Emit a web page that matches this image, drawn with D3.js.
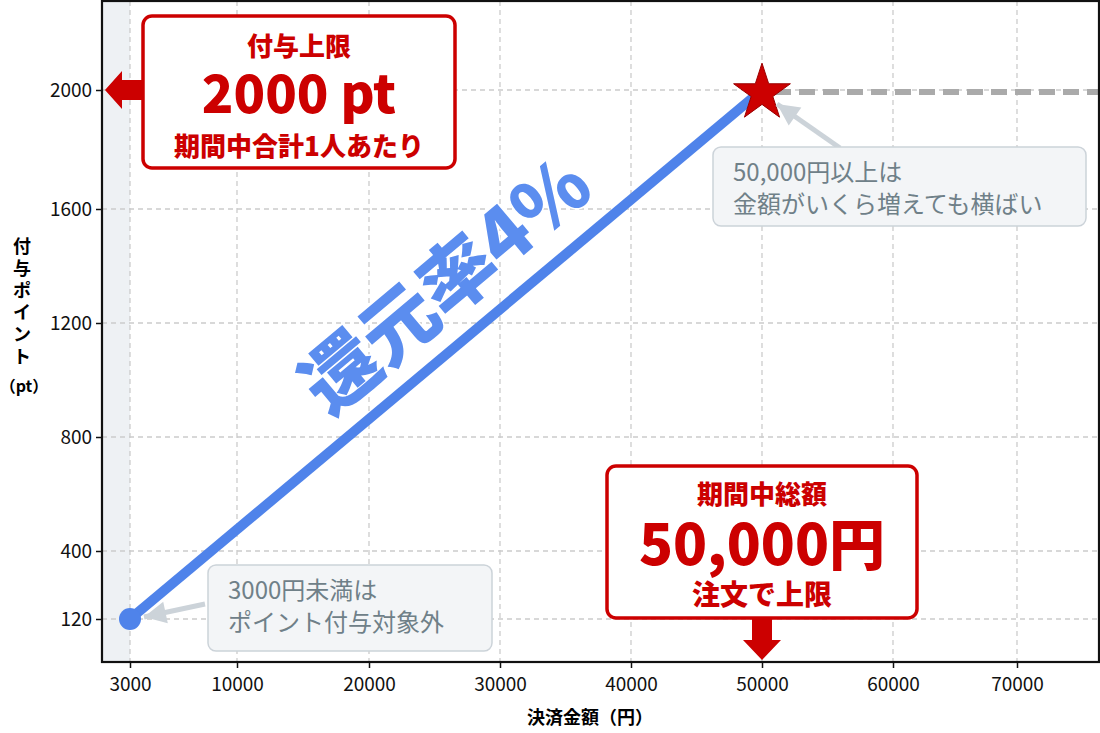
<!DOCTYPE html>
<html><head><meta charset="utf-8">
<script src="https://cdn.jsdelivr.net/npm/d3@7"></script>
<style>body{margin:0;background:#fff}text{font-family:"Noto Sans CJK JP","Noto Sans",sans-serif}</style>
</head><body><svg id="c" width="1100" height="733"></svg>
<script>
const xTicks=[3000,10000,20000,30000,40000,50000,60000,70000];
const yTicks=[120,400,800,1200,1600,2000];
const lineX=[3000,50000];
const lineY=[120,2000];
const capX=[50000,80000];
const capY=[2000,2000];

const svg=d3.select("#c");
const L=102,R=1099,T=1,B=662;
const x=d3.scaleLinear().domain(xTicks).range([130,237,369,500,631,762,893,1017]);
const y=d3.scaleLinear().domain(yTicks).range([619,551,437,323,209,90]);
const defs=svg.append("defs");
defs.append("clipPath").attr("id","cp").append("rect").attr("x",L).attr("y",T).attr("width",R-L).attr("height",B-T);
const g=svg.append("g").attr("clip-path","url(#cp)");
g.append("rect").attr("x",L).attr("y",T).attr("width",x(3000)-L).attr("height",B-T).attr("fill","#eef1f4");
g.selectAll(".gx").data(xTicks).join("line").attr("x1",d=>x(d)).attr("x2",d=>x(d)).attr("y1",T).attr("y2",B)
 .attr("stroke","#ccc").attr("stroke-dasharray","5,4").attr("stroke-width",1.3);
g.selectAll(".gy").data(yTicks).join("line").attr("y1",d=>y(d)).attr("y2",d=>y(d)).attr("x1",L).attr("x2",R)
 .attr("stroke","#ccc").attr("stroke-dasharray","5,4").attr("stroke-width",1.3);
g.append("line").attr("x1",x(capX[0])+13).attr("x2",x(capX[1])).attr("y1",y(capY[0])+2).attr("y2",y(capY[1])+2)
 .attr("stroke","#aaa").attr("stroke-width",6).attr("stroke-dasharray","16,8");
g.append("line").attr("x1",x(lineX[0])).attr("y1",y(lineY[0])).attr("x2",x(lineX[1])).attr("y2",y(lineY[1]))
 .attr("stroke","#4f83ea").attr("stroke-width",10);
g.append("circle").attr("cx",x(lineX[0])).attr("cy",y(lineY[0])).attr("r",11).attr("fill","#4f83ea");
g.append("path").attr("d",d3.symbol(d3.symbolStar,1000)()).attr("transform",`translate(${x(lineX[1])},${y(lineY[1])+3})`)
 .attr("fill","#cc0000").attr("stroke","#900").attr("stroke-width",1);
svg.append("rect").attr("x",L).attr("y",T).attr("width",R-L).attr("height",B-T).attr("fill","none").attr("stroke","#111").attr("stroke-width",2.2);
svg.append("g").attr("transform",`translate(0,${B})`).call(d3.axisBottom(x).tickValues(xTicks).tickFormat(d=>d).tickSize(6))
 .call(a=>{a.attr("font-size",null).attr("font-family",null);a.select(".domain").remove();a.selectAll("line").attr("stroke","#111").attr("stroke-width",1.5);
 a.selectAll("text").style("font-size","19px").attr("fill","#111").attr("dy","1.05em");});
svg.append("g").attr("transform",`translate(${L},0)`).call(d3.axisLeft(y).tickValues(yTicks).tickFormat(d=>d).tickSize(6))
 .call(a=>{a.attr("font-size",null).attr("font-family",null);a.select(".domain").remove();a.selectAll("line").attr("stroke","#111").attr("stroke-width",1.5);
 a.selectAll("text").style("font-size","19px").attr("fill","#111").attr("dx","-0.05em");});
svg.append("text").attr("x",590).attr("y",724).attr("text-anchor","middle").style("font-size","18px").attr("font-weight","bold").text("決済金額（円）");
const yl=["付","与","ポ","イ","ン","ト"];
yl.forEach((c,i)=>svg.append("text").attr("x",22).attr("y",253+i*22).attr("text-anchor","middle").style("font-size","18px").attr("font-weight","bold").text(c));
svg.append("text").attr("x",24).attr("y",392).attr("text-anchor","middle").style("font-size","16px").attr("font-weight","bold").text("（pt）");
svg.append("text").attr("transform","translate(450,290) rotate(-40)").attr("text-anchor","middle").attr("dominant-baseline","middle")
 .style("font-size","76px").attr("font-weight","900").attr("fill","#5b8def").attr("stroke","#fff").attr("stroke-width",3).attr("paint-order","stroke").text("還元率4%");
function redBox(x0,y0,w,h,lines){
 svg.append("rect").attr("x",x0).attr("y",y0).attr("width",w).attr("height",h).attr("rx",9).attr("fill","#fff").attr("stroke","#c00").attr("stroke-width",3.5);
 lines.forEach(l=>svg.append("text").attr("x",x0+w/2).attr("y",l[0]).attr("text-anchor","middle").style("font-size",l[1]+"px").attr("font-weight","900").attr("fill","#c00").text(l[2]));
}
svg.append("path").attr("d","M145,80 L122,80 L122,71 L105,90 L122,109 L122,100 L145,100Z").attr("fill","#c00");
redBox(143,16,312,152,[[56,26,"付与上限"],[113,52,"2000 pt"],[156,26,"期間中合計1人あたり"]]);
svg.append("path").attr("d",`M752,616 L752,640 L743,640 L762,660 L781,640 L772,640 L772,616Z`).attr("fill","#c00");
redBox(607,466,310,152,[[504,26,"期間中総額"],[565,56,"50,000円"],[605,28,"注文で上限"]]);
function note(x0,y0,w,h,lines,ax){
 svg.append("line").attr("x1",ax[0]).attr("y1",ax[1]).attr("x2",ax[2]).attr("y2",ax[3]).attr("stroke","#ccd3d9").attr("stroke-width",5);
 const ang=Math.atan2(ax[3]-ax[1],ax[2]-ax[0])*180/Math.PI;
 svg.append("path").attr("d","M0,0 L-22,-11 L-22,11Z").attr("transform",`translate(${ax[2]},${ax[3]}) rotate(${ang})`).attr("fill","#ccd3d9");
 svg.append("rect").attr("x",x0).attr("y",y0).attr("width",w).attr("height",h).attr("rx",8).attr("fill","#f3f5f7").attr("stroke","#ccd3d9").attr("stroke-width",1.5);
 lines.forEach((l,i)=>svg.append("text").attr("x",x0+20).attr("y",y0+34+i*32).style("font-size","24px").attr("fill","#6f8088").text(l));
}
note(208,565,284,86,["3000円未満は","ポイント付与対象外"],[205,604,144,617]);
note(713,147,373,79,["50,000円以上は","金額がいくら増えても横ばい"],[840,148,777,104]);
</script></body></html>
